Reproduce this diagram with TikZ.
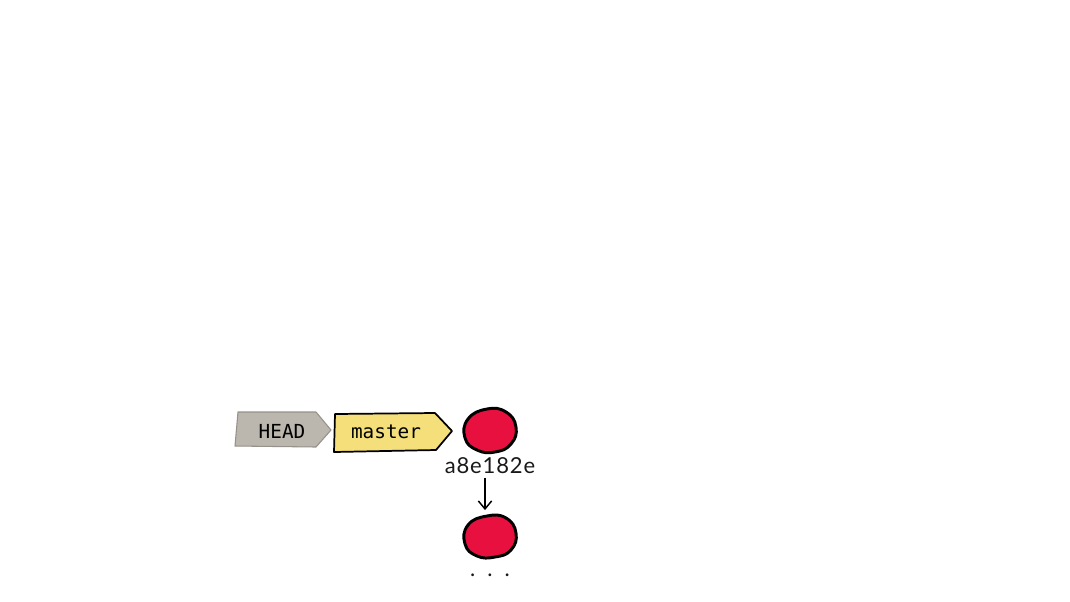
\documentclass[tikz,border=0pt]{standalone}
\usepackage{fontspec}
\setmainfont{Lato}
\newfontfamily\tagfont{DejaVu Sans Mono}
\newfontfamily\hashfont[LetterSpace=4]{Lato}
\usetikzlibrary{arrows.meta,calc}
\definecolor{headgrey}{RGB}{187,182,174}
\definecolor{headedge}{RGB}{150,146,139}
\definecolor{masteryellow}{RGB}{245,223,122}
\definecolor{commitred}{RGB}{232,16,63}
\begin{document}
\begin{tikzpicture}[x=0.75pt,y=-0.75pt,
  tagtext/.style={font=\tagfont\fontsize{14.5}{16}\selectfont, inner sep=0pt, text=black},
  hashtext/.style={font=\hashfont\fontsize{16.5}{18}\selectfont, inner sep=0pt, text=black!90},
  commit/.style={circle, minimum size=40pt, inner sep=0pt, draw=none},
  blob/.style={fill=commitred, draw=black, line width=2.2pt, line join=round},
  parentarrow/.style={draw=black, line width=1.1pt, -{Straight Barb[length=6pt,width=10pt,line width=1.1pt]}}]
\useasboundingbox (0,0) rectangle (1070,601);
\fill[white] (0,0) rectangle (1070,601);

% HEAD tag
\filldraw[fill=headgrey, draw=headedge, line width=0.8pt, line join=round]
  (238,412) -- (316,412) -- (331,430) -- (316,447) -- (235,446) -- cycle;
\node[tagtext] (head) at (282,431) {HEAD};

% master tag
\filldraw[fill=masteryellow, draw=black, line width=1.3pt, line join=round]
  (335,414) -- (435,413) -- (452,431) -- (436,450) -- (334,452) -- cycle;
\node[tagtext] (master) at (386,432) {master};

% commits
\node[commit] (c1) at (490,430) {};
\node[commit] (c2) at (490,537) {};
\path[blob] plot[smooth cycle, tension=0.8] coordinates
  {(487,409) (506,412) (516,427) (511,444) (495,452) (477,450) (465,438) (468,419)};
\path[blob] plot[smooth cycle, tension=0.8] coordinates
  {(487,516) (506,518) (516,533) (511,550) (495,557) (477,556) (465,544) (468,525)};

\node[hashtext] (hash) at (490,466) {a8e182e};
\node[hashtext] (more) at (490,575) {.\hspace{9pt}.\hspace{9pt}.};

\draw[parentarrow] ([xshift=-5*0.75pt, yshift=-3pt]hash.south) -- ([xshift=-5*0.75pt]c2.north);
\end{tikzpicture}
\end{document}
